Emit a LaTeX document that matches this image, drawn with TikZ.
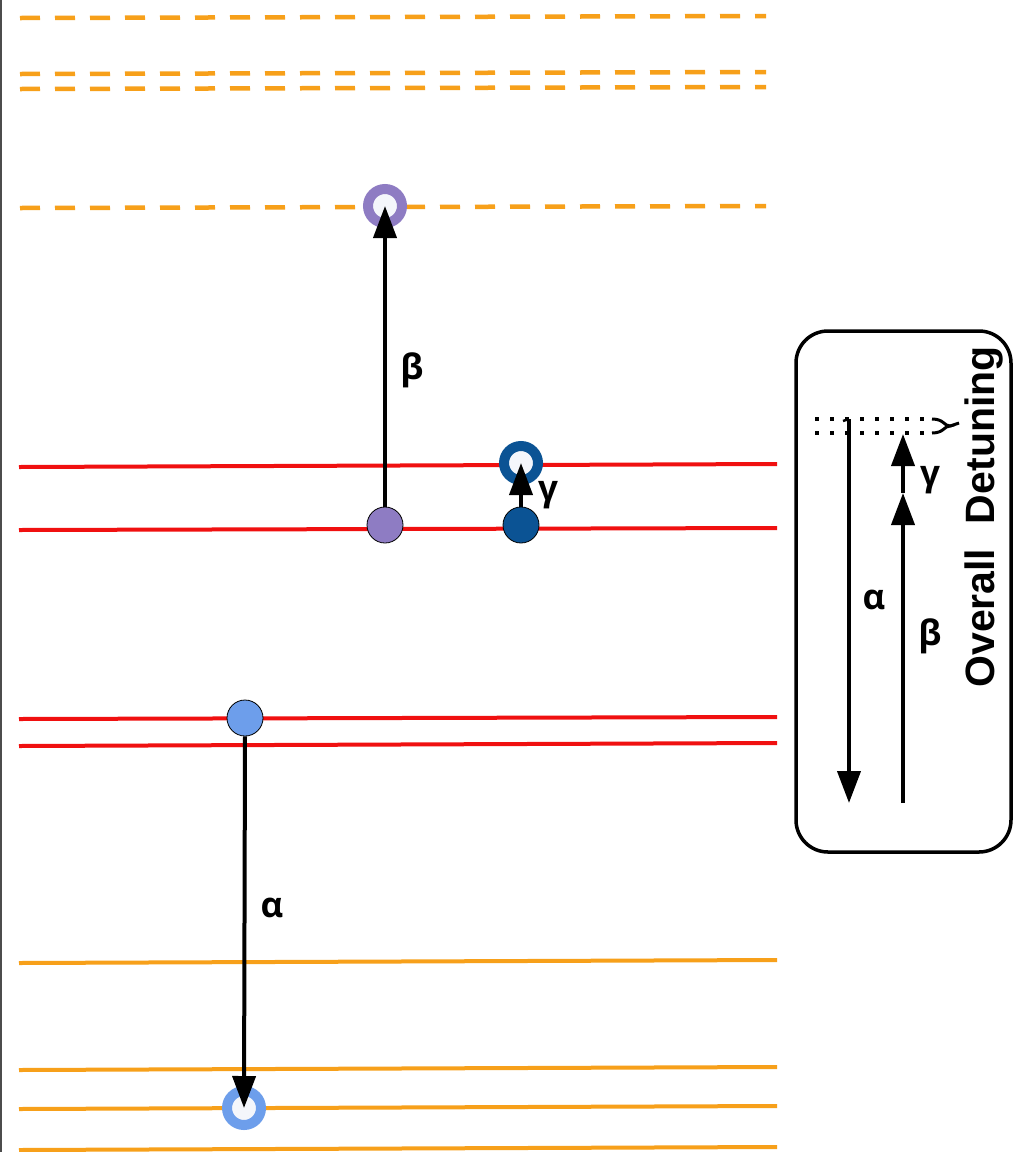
\documentclass[tikz,border=0pt]{standalone}
\usepackage{fontspec}
\setmainfont{Liberation Sans}
\newfontfamily\greekfont{Open Sans}
\usetikzlibrary{arrows.meta}
\definecolor{lvlorange}{HTML}{F7A01A}
\definecolor{lvlred}{HTML}{F01010}
\definecolor{violetc}{HTML}{8E7CC3}
\definecolor{navyc}{HTML}{0B5394}
\definecolor{skyc}{HTML}{6D9EEB}
\definecolor{ringin}{HTML}{F4F6FB}
\begin{document}
\begin{tikzpicture}[x=1pt,y=-1pt,
  dashlvl/.style={lvlorange,line width=4.5pt,dash pattern=on 20pt off 15pt},
  solidlvl/.style={lvlorange,line width=4pt},
  redlvl/.style={lvlred,line width=4pt},
  ring/.style={circle,draw=#1,fill=ringin,line width=10pt,minimum size=34pt,inner sep=0pt},
  dot/.style={circle,draw=black,fill=#1,line width=0.8pt,minimum size=36pt,inner sep=0pt},
  arr/.style={line width=4pt,-{Triangle[length=32pt,width=23pt]}},
  glabel/.style={font=\greekfont\bfseries\fontsize{35}{37}\selectfont,inner sep=0pt},
  dotted lvl/.style={line width=3.5pt,dash pattern=on 3.5pt off 11.5pt}]
\useasboundingbox (0,0) rectangle (1014,1152);
\fill[white] (0,0) rectangle (1014,1152);
\draw[black!70,line width=2pt] (1,0) -- (1,1152);

% upper (virtual) levels
\draw[dashlvl] (20,18) -- (766,16);
\draw[dashlvl] (20,74) -- (766,72);
\draw[dashlvl] (20,89) -- (766,87);
\draw[dashlvl] (20,208) -- (766,206);

% red levels
\draw[redlvl] (19,467) -- (777,464);
\draw[redlvl] (19,530) -- (777,528);
\draw[redlvl] (19,719) -- (777,717);
\draw[redlvl] (19,746) -- (777,743);

% lower levels
\draw[solidlvl] (19,963) -- (777,960);
\draw[solidlvl] (19,1070) -- (777,1067);
\draw[solidlvl] (19,1109) -- (777,1106);
\draw[solidlvl] (19,1150) -- (777,1147);

% states
\node[ring=violetc] (pr) at (385,206) {};
\node[dot=violetc] (pf) at (385,525) {};
\node[ring=navyc] (dr) at (521,463) {};
\node[dot=navyc] (df) at (521,525) {};
\node[dot=skyc] (lf) at (245,718) {};
\node[ring=skyc] (lr) at (244,1108) {};

% transitions
\draw[arr] (pf.north) -- (pr.center);
\draw[arr] (df.north) -- (dr.center);
\draw[arr] (lf.south) -- (lr.center);
\node[glabel] (lb) at (412,370) {β};
\node[glabel] (lg) at (548,495) {γ};
\node[glabel] (la) at (272,908) {α};

% detuning inset
\draw[line width=3.5pt,rounded corners=32pt] (796,331) rectangle (1011,852);
\coordinate (up) at (815,419);
\coordinate (lo) at (815,433);
\draw[dotted lvl] (up) -- (930,419);
\draw[dotted lvl] (lo) -- (930,433);
\draw[line width=3pt] (932,419) .. controls (944,419) and (944,426) .. (950,426)
  .. controls (944,426) and (944,433) .. (932,433);
\draw[line width=3pt] (950,426) -- (959,423);
\coordinate (ta) at (849,419);
\coordinate (ba) at (849,803);
\coordinate (bb) at (903,803);
\coordinate (mb) at (903,493);
\coordinate (tg) at (903,434);
\draw[arr] (ta) -- (ba);
\draw[line width=2.5pt] (843,421) -- (849,419);
\draw[arr] (bb) -- (mb);
\draw[arr] (mb) -- (tg);
\node[glabel] (ia) at (874,600) {α};
\node[glabel] (ib) at (930,636) {β};
\node[glabel] (ig) at (930,480) {γ};
\node[rotate=90,font=\bfseries\fontsize{41}{43}\selectfont,inner sep=0pt] (od) at (984,517) {Overall\hspace{0.6em}Detuning};
\end{tikzpicture}
\end{document}
